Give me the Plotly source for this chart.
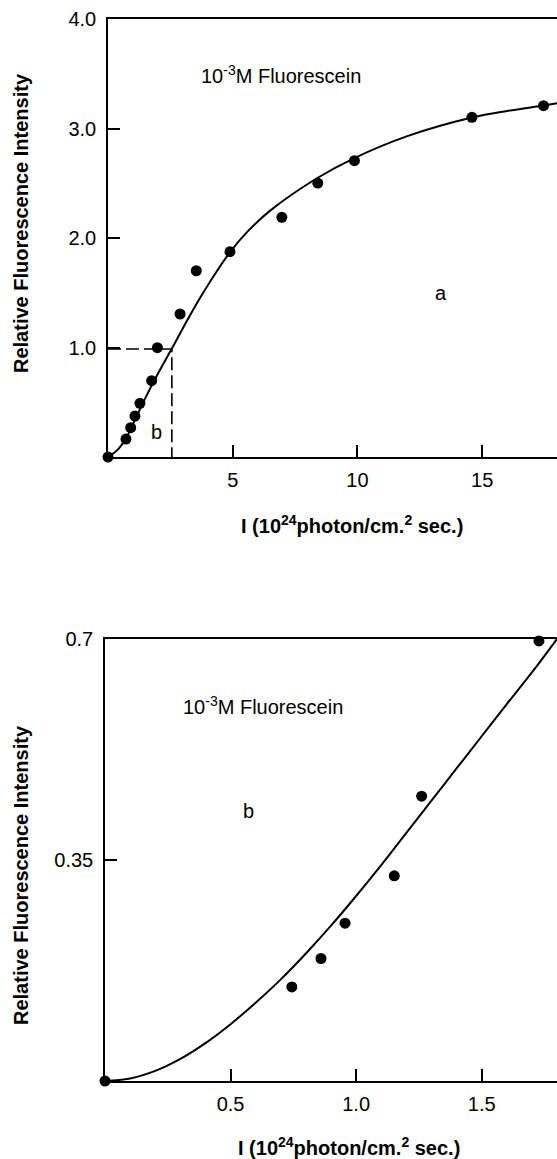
import plotly.graph_objects as go

# ---------------- data ----------------
# Panel a (top)
a_pts_x = [0, 0.72, 0.91, 1.08, 1.28, 1.75, 1.98, 2.89, 3.54, 4.89, 6.97, 8.41, 9.88, 14.59, 17.46]
a_pts_y = [0, 0.164, 0.268, 0.374, 0.49, 0.697, 0.998, 1.306, 1.701, 1.875, 2.189, 2.502, 2.706, 3.102, 3.208]
a_fit_x = [0, 0.4, 0.72, 1.0, 1.5, 2.0, 2.56, 3.3, 4.09, 4.89, 5.6, 6.5, 8.41, 9.88, 12, 14.59, 16, 17.46, 18]
a_fit_y = [0, 0.07, 0.17, 0.30, 0.54, 0.76, 0.99, 1.30, 1.60, 1.87, 2.06, 2.25, 2.55, 2.73, 2.93, 3.10, 3.16, 3.21, 3.23]
a_dash_x = 2.56
a_dash_y = 0.986
a_xticks = [5, 10, 15]
a_xticklabels = ["5", "10", "15"]
a_yticks = [1, 2, 3, 4]
a_yticklabels = ["1.0", "2.0", "3.0", "4.0"]

# Panel b (bottom)
b_pts_x = [0, 0.744, 0.86, 0.956, 1.152, 1.261, 1.728]
b_pts_y = [0, 0.149, 0.194, 0.25, 0.325, 0.451, 0.697]
b_fit_x = [0, 0.1, 0.2, 0.3, 0.4, 0.5, 0.6, 0.7, 0.8, 0.9, 1.0, 1.1, 1.2, 1.3, 1.4, 1.5, 1.6, 1.7, 1.8]
b_fit_y = [0, 0.004, 0.016, 0.035, 0.060, 0.090, 0.124, 0.161, 0.202, 0.246, 0.293, 0.342, 0.393, 0.444,
           0.495, 0.546, 0.597, 0.647, 0.70]
b_xticks = [0.5, 1.0, 1.5]
b_xticklabels = ["0.5", "1.0", "1.5"]
b_yticks = [0.35, 0.7]
b_yticklabels = ["0.35", "0.7"]

label_text = "10<sup>-3</sup>M Fluorescein"
ytitle = "Relative Fluorescence Intensity"
xtitle = "I (10<sup>24</sup>photon/cm.<sup>2</sup> sec.)"

# ---------------- figure ----------------
W, H = 557, 1159
FONT = "Liberation Sans, Arial, Helvetica, sans-serif"

def px_x(p):
    return p / W

def px_y(p):
    return (H - p) / H

fig = go.Figure()

# Panel a
fig.add_trace(go.Scatter(x=a_fit_x, y=a_fit_y, mode="lines", line=dict(color="black", width=2, shape="spline", smoothing=1.0),
                         xaxis="x", yaxis="y", showlegend=False, hoverinfo="skip"))
fig.add_trace(go.Scatter(x=[0, a_dash_x, a_dash_x], y=[a_dash_y, a_dash_y, 0], mode="lines",
                         line=dict(color="black", width=1.6, dash="13px,5px"),
                         xaxis="x", yaxis="y", showlegend=False, hoverinfo="skip"))
fig.add_trace(go.Scatter(x=a_pts_x, y=a_pts_y, mode="markers", marker=dict(color="black", size=11),
                         xaxis="x", yaxis="y", showlegend=False, cliponaxis=False))

# Panel b
fig.add_trace(go.Scatter(x=b_fit_x, y=b_fit_y, mode="lines", line=dict(color="black", width=2, shape="spline", smoothing=1.0),
                         xaxis="x2", yaxis="y2", showlegend=False, hoverinfo="skip"))
fig.add_trace(go.Scatter(x=b_pts_x, y=b_pts_y, mode="markers", marker=dict(color="black", size=11),
                         xaxis="x2", yaxis="y2", showlegend=False, cliponaxis=False))

axis_common = dict(showline=True, linecolor="black", linewidth=1.5, ticks="inside", ticklen=12,
                   tickwidth=1.5, tickcolor="black", showgrid=False, zeroline=False,
                   tickfont=dict(family=FONT, size=20, color="black"), automargin=False)

fig.update_layout(
    width=W, height=H,
    margin=dict(l=0, r=0, t=0, b=0),
    paper_bgcolor="white", plot_bgcolor="white",
    font=dict(family=FONT, color="black"),
    xaxis=dict(domain=[px_x(108), 1], range=[0, 18.0], tickvals=a_xticks, ticktext=a_xticklabels,
               anchor="y", mirror=True, ticklabelstandoff=4, **axis_common),
    yaxis=dict(domain=[px_y(457), px_y(19)], range=[0, 4.0], tickvals=a_yticks, ticktext=a_yticklabels,
               anchor="x", ticklabelstandoff=6, **axis_common),
    xaxis2=dict(domain=[px_x(105), 1], range=[0, 1.8], tickvals=b_xticks, ticktext=b_xticklabels,
                anchor="y2", mirror=True, ticklabelstandoff=4, **axis_common),
    yaxis2=dict(domain=[px_y(1081), px_y(639)], range=[0, 0.7], tickvals=b_yticks, ticktext=b_yticklabels,
                anchor="x2", ticklabelstandoff=6, **axis_common),
)

ann_font = dict(family=FONT, size=20, color="black")
title_font = dict(family=FONT, size=20, color="black")
annotations = [
    # panel a
    dict(x=3.65, y=3.49, xref="x", yref="y", text=label_text, showarrow=False, xanchor="left", yanchor="middle", font=ann_font),
    dict(x=13.35, y=1.50, xref="x", yref="y", text="a", showarrow=False, xanchor="center", yanchor="middle", font=ann_font),
    dict(x=1.95, y=0.23, xref="x", yref="y", text="b", showarrow=False, xanchor="center", yanchor="middle", font=ann_font),
    dict(x=px_x(21), y=px_y(223), xref="paper", yref="paper", text="<b>" + ytitle + "</b>", textangle=-90,
         showarrow=False, xanchor="center", yanchor="middle", font=title_font),
    dict(x=px_x(352), y=px_y(524), xref="paper", yref="paper", text="<b>" + xtitle + "</b>",
         showarrow=False, xanchor="center", yanchor="middle", font=title_font),
    # panel b
    dict(x=(181 - 105) / 251.1, y=(1081 - 706) / 631.4, xref="x2", yref="y2", text=label_text, showarrow=False,
         xanchor="left", yanchor="middle", font=ann_font),
    dict(x=0.571, y=0.427, xref="x2", yref="y2", text="b", showarrow=False, xanchor="center", yanchor="middle", font=ann_font),
    dict(x=px_x(21), y=px_y(875), xref="paper", yref="paper", text="<b>" + ytitle + "</b>", textangle=-90,
         showarrow=False, xanchor="center", yanchor="middle", font=title_font),
    dict(x=px_x(349), y=px_y(1146), xref="paper", yref="paper", text="<b>" + xtitle + "</b>",
         showarrow=False, xanchor="center", yanchor="middle", font=title_font),
]
fig.update_layout(annotations=annotations)

fig.write_html("out.html")
